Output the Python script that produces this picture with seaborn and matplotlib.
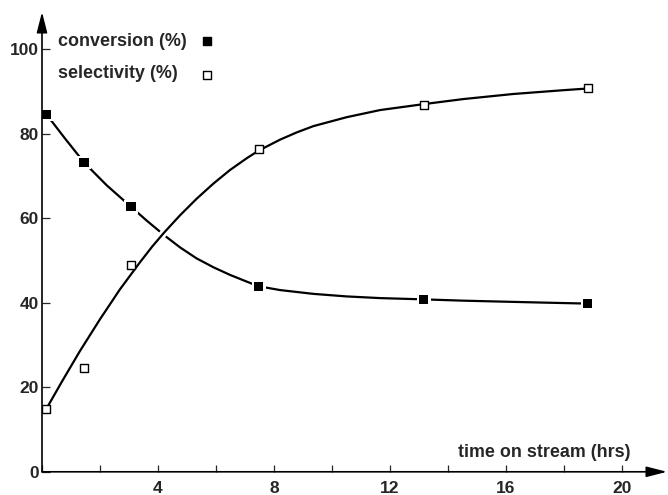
import matplotlib
matplotlib.use("Agg")
import matplotlib.pyplot as plt
import matplotlib.patheffects as pe
from matplotlib.ticker import FixedLocator, MultipleLocator
import seaborn as sns

# ---- data ----
time_hrs = [0.15, 1.45, 3.07, 7.47, 13.16, 18.82]
conversion = [84.6, 73.2, 62.7, 43.8, 40.8, 39.8]
selectivity = [14.9, 24.6, 48.9, 76.4, 86.8, 90.7]

# hand-drawn trend curves
conv_curve_t = [0.15, 0.79, 1.45, 2.23, 3.07, 3.6, 4.21, 4.76, 5.33, 5.91, 6.48,
                7.06, 7.47, 8.21, 9.36, 10.5, 11.66, 13.16, 14.5, 15.68, 17.2, 18.82]
conv_curve = [84.6, 78.9, 73.2, 67.8, 62.7, 59.5, 56.0, 53.1, 50.5, 48.4, 46.6,
              45.0, 43.9, 43.0, 42.1, 41.5, 41.1, 40.8, 40.5, 40.3, 40.05, 39.8]
sel_curve_t = [0.15, 0.7, 1.31, 2.0, 2.69, 3.38, 3.8, 4.21, 4.76, 5.33, 5.91, 6.48,
               7.06, 7.47, 8.21, 8.78, 9.36, 10.5, 11.66, 13.16, 14.53, 16.25,
               17.98, 18.82]
sel_curve = [14.9, 21.5, 28.6, 36.1, 43.2, 49.6, 53.3, 56.6, 60.7, 64.6, 68.2, 71.4,
             74.2, 76.0, 78.6, 80.3, 81.8, 83.9, 85.6, 87.0, 88.2, 89.4, 90.3, 90.7]

x_ticks = [4, 8, 12, 16, 20]
y_ticks = [0, 20, 40, 60, 80, 100]
x_label = "time on stream (hrs)"
legend_labels = ["conversion (%)", "selectivity (%)"]

# ---- style ----
sns.set_style("white")
plt.rcParams['font.family'] = ['Liberation Sans', 'DejaVu Sans']
plt.rcParams['font.weight'] = 'bold'

fig = plt.figure(figsize=(6.68, 4.95), dpi=100)
W, H = 668, 495
x0, y0, x1, y1 = 42, 471.8, 667, 12
ax = fig.add_axes([x0 / W, (H - y0) / H, (x1 - x0) / W, (y0 - y1) / H])
ax.set_xlim(0, 21.55)
ax.set_ylim(0, 108.8)

# curves
sns.lineplot(x=conv_curve_t, y=conv_curve, ax=ax, color='black', lw=1.6,
             sort=False, estimator=None, zorder=2)
sns.lineplot(x=sel_curve_t, y=sel_curve, ax=ax, color='black', lw=1.6,
             sort=False, estimator=None, zorder=2.5,
             path_effects=[pe.Stroke(linewidth=5.5, foreground='white'), pe.Normal()])

# markers
sns.scatterplot(x=time_hrs, y=conversion, ax=ax, marker='s', s=100, color='white',
                edgecolor='none', linewidth=0, zorder=3)
sns.scatterplot(x=time_hrs, y=conversion, ax=ax, marker='s', s=44, color='black',
                edgecolor='none', linewidth=0, zorder=4)
sns.scatterplot(x=time_hrs, y=selectivity, ax=ax, marker='s', s=29, color='white',
                edgecolor='black', linewidth=1.0, zorder=4)

# axes as arrows
for s in ax.spines.values():
    s.set_visible(False)
arrow_kw = dict(arrowstyle='-|>,head_length=1.25,head_width=0.32', color='black',
                lw=1.2, shrinkA=0, shrinkB=0, mutation_scale=10)
ax.annotate('', xy=(1, 0), xytext=(0, 0), xycoords='axes fraction',
            textcoords='axes fraction', arrowprops=arrow_kw, zorder=5)
ax.annotate('', xy=(0, 1), xytext=(0, 0), xycoords='axes fraction',
            textcoords='axes fraction', arrowprops=arrow_kw, zorder=5)

ax.xaxis.set_major_locator(FixedLocator(x_ticks))
ax.xaxis.set_minor_locator(MultipleLocator(2))
ax.yaxis.set_major_locator(FixedLocator(y_ticks))
ax.set_xticklabels([str(t) for t in x_ticks])
ax.set_yticklabels([str(t) for t in y_ticks])
ax.tick_params(axis='x', which='both', direction='in', length=4.8, width=0.9,
               pad=6.3, labelsize=12.5, bottom=True)
ax.tick_params(axis='y', which='major', direction='in', length=6, width=0.9,
               pad=2.3, labelsize=12.5, left=True)

# axis label
ax.text((458 - x0) / (x1 - x0), (y0 - 457) / (y0 - y1), x_label,
        transform=ax.transAxes, fontsize=12.9, fontweight='bold',
        ha='left', va='baseline')

# legend (text followed by marker)
lx = (58 - x0) / (x1 - x0)
mx = (207 - x0) / (x1 - x0)
ax.text(lx, (y0 - 46) / (y0 - y1), legend_labels[0], transform=ax.transAxes,
        fontsize=12.9, fontweight='bold', ha='left', va='baseline')
ax.text(lx, (y0 - 78.5) / (y0 - y1), legend_labels[1], transform=ax.transAxes,
        fontsize=12.9, fontweight='bold', ha='left', va='baseline')
ax.scatter([mx], [(y0 - 41) / (y0 - y1)], transform=ax.transAxes, marker='s',
           s=33, color='black', clip_on=False, zorder=5)
ax.scatter([mx], [(y0 - 75) / (y0 - y1)], transform=ax.transAxes, marker='s',
           s=28, facecolor='white', edgecolor='black', linewidth=1.0,
           clip_on=False, zorder=5)

fig.savefig("out.png", dpi=100)
